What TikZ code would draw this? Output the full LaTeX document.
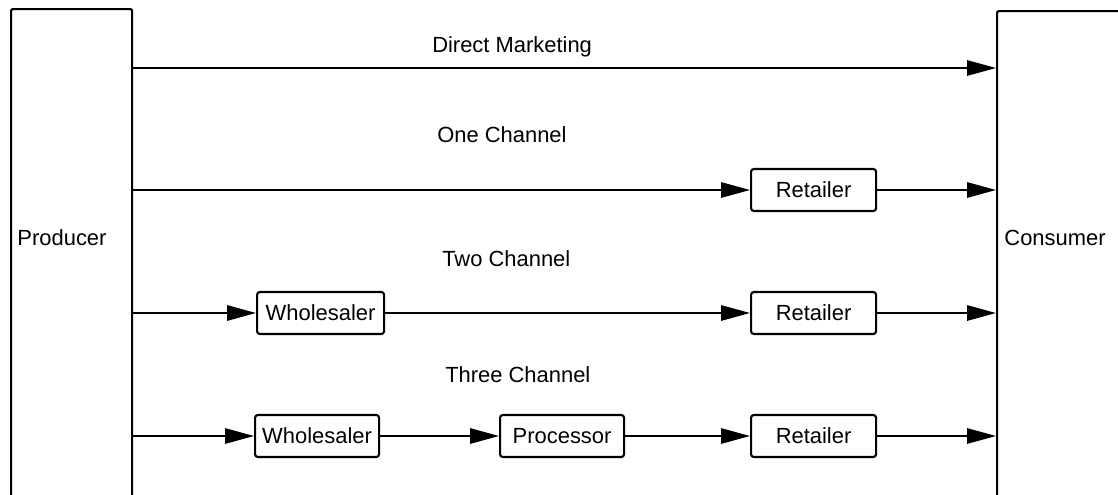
\documentclass[tikz,border=0pt]{standalone}
\usepackage{fontspec}
\setmainfont{Liberation Sans}
\usetikzlibrary{arrows.meta}
\begin{document}
\begin{tikzpicture}[x=0.025cm, y=-0.025cm,
  every node/.style={font=\fontsize{15.6}{18}\selectfont, inner sep=0pt},
  party/.style={draw, line width=1.5pt, rounded corners=1pt, anchor=north west},
  stage/.style={draw, line width=1.5pt, rounded corners=2pt, minimum height=1.05cm, anchor=west},
  flow/.style={line width=1.5pt, -{Triangle[length=0.72cm, width=0.38cm]}},
  route/.style={anchor=base west}]
  \useasboundingbox (0,0) rectangle (1118,494);
  \clip (0,0) rectangle (1118,494);

  % end parties
  \node[party, minimum width=3.025cm, minimum height=15cm] (producer) at (10,8) {};
  \node (producerlabel) at (62,238) {Producer};
  \node[party, minimum width=4cm, minimum height=15cm] (consumer) at (996,10) {};
  \node (consumerlabel) at (1055,238) {Consumer};

  % channel titles
  \node[route] (t0) at (432,52) {Direct Marketing};
  \node[route] (t1) at (437,142) {One Channel};
  \node[route] (t2) at (442,266) {Two Channel};
  \node[route] (t3) at (445,382) {Three Channel};

  % intermediaries
  \node[stage, minimum width=3.125cm] (r1) at (750,190) {Retailer};
  \node[stage, minimum width=3.175cm] (w2) at (256,313) {Wholesaler};
  \node[stage, minimum width=3.125cm] (r2) at (750,313) {Retailer};
  \node[stage, minimum width=3.1cm] (w3) at (254,436) {Wholesaler};
  \node[stage, minimum width=3.1cm] (p3) at (499,436) {Processor};
  \node[stage, minimum width=3.125cm] (r3) at (750,436) {Retailer};

  % row anchors on the two parties
  \coordinate (s0) at (producer.east |- 0,68);
  \coordinate (e0) at (consumer.west |- 0,68);

  % direct marketing
  \draw[flow] (s0) -- (e0);
  % one channel
  \draw[flow] (producer.east |- r1) -- (r1.west);
  \draw[flow] (r1.east) -- (consumer.west |- r1);
  % two channel
  \draw[flow] (producer.east |- w2) -- (w2.west);
  \draw[flow] (w2.east) -- (r2.west);
  \draw[flow] (r2.east) -- (consumer.west |- r2);
  % three channel
  \draw[flow] (producer.east |- w3) -- (w3.west);
  \draw[flow] (w3.east) -- (p3.west);
  \draw[flow] (p3.east) -- (r3.west);
  \draw[flow] (r3.east) -- (consumer.west |- r3);
\end{tikzpicture}
\end{document}
